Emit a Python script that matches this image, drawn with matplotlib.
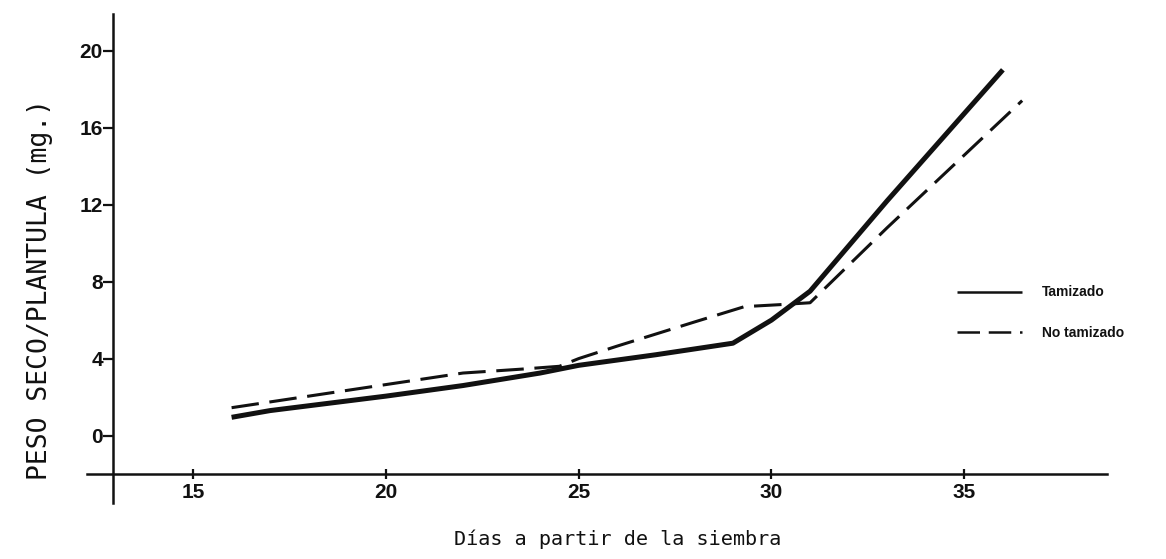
import matplotlib
matplotlib.use('Agg')
import matplotlib.pyplot as plt

# Peso seco por plántula (mg) vs días a partir de la siembra
dias_tamizado = [16, 17, 20, 22, 24, 25, 27, 29, 30, 31, 33, 36]
peso_tamizado = [0.95, 1.3, 2.05, 2.6, 3.25, 3.65, 4.2, 4.8, 6.0, 7.5, 12.2, 19.0]

dias_no_tamizado = [16, 18, 20, 22, 23.5, 24.5, 25, 26, 28, 29.3, 30.2, 31, 33, 36.5]
peso_no_tamizado = [1.45, 2.05, 2.65, 3.25, 3.45, 3.6, 4.0, 4.65, 5.9, 6.7, 6.8, 6.9, 10.8, 17.4]

x_ticks = [15, 20, 25, 30, 35]
y_ticks = [0, 4, 8, 12, 16, 20]

INK = '#111111'

fig = plt.figure(figsize=(11.66, 5.59), dpi=100)
ax = fig.add_axes([0.0746, 0.1002, 0.8748, 0.8748])

ax.plot(dias_tamizado, peso_tamizado, color=INK, lw=3.6,
        solid_capstyle='butt', solid_joinstyle='round', label='Tamizado')
ax.plot(dias_no_tamizado, peso_no_tamizado, color=INK, lw=2.2,
        dashes=(9, 3.5), dash_capstyle='butt', label='No tamizado')

ax.set_xlim(12.25, 38.7)
ax.set_ylim(-3.5, 21.9)

# hand-drawn style crossing axes
for s in ['top', 'right']:
    ax.spines[s].set_visible(False)
ax.spines['left'].set_position(('data', 12.93))
ax.spines['bottom'].set_position(('data', -2))
for s in ['left', 'bottom']:
    ax.spines[s].set_color(INK)
    ax.spines[s].set_linewidth(1.8)

ax.set_xticks(x_ticks)
ax.set_yticks(y_ticks)
ax.tick_params(axis='x', direction='inout', length=7, width=1.6, pad=3,
               colors=INK, labelsize=15)
ax.tick_params(axis='y', direction='out', length=7, width=1.6, pad=0.5,
               colors=INK, labelsize=15)
for lab in ax.get_xticklabels() + ax.get_yticklabels():
    lab.set_fontweight('bold')
    lab.set_family('Liberation Sans')

ax.text(-0.046, 0.436, 'PESO SECO/PLANTULA (mg.)', transform=ax.transAxes,
        rotation=90, ha='center', va='center', family='DejaVu Sans Mono',
        fontsize=19, color=INK)
ax.set_xlabel('Días a partir de la siembra', family='DejaVu Sans Mono',
              fontsize=14.5, color=INK)
ax.xaxis.set_label_coords(0.52, -0.055)

leg = ax.legend(loc='upper left', bbox_to_anchor=(0.853, 0.445), frameon=False,
                handlelength=4.7, handletextpad=1.4, labelspacing=1.9,
                borderpad=0, borderaxespad=0,
                prop={'family': 'Liberation Sans', 'weight': 'bold', 'size': 10})
for t in leg.get_texts():
    t.set_color(INK)
for h in leg.get_lines():
    h.set_linewidth(1.8)

fig.savefig('out.png', dpi=100, facecolor='white')
